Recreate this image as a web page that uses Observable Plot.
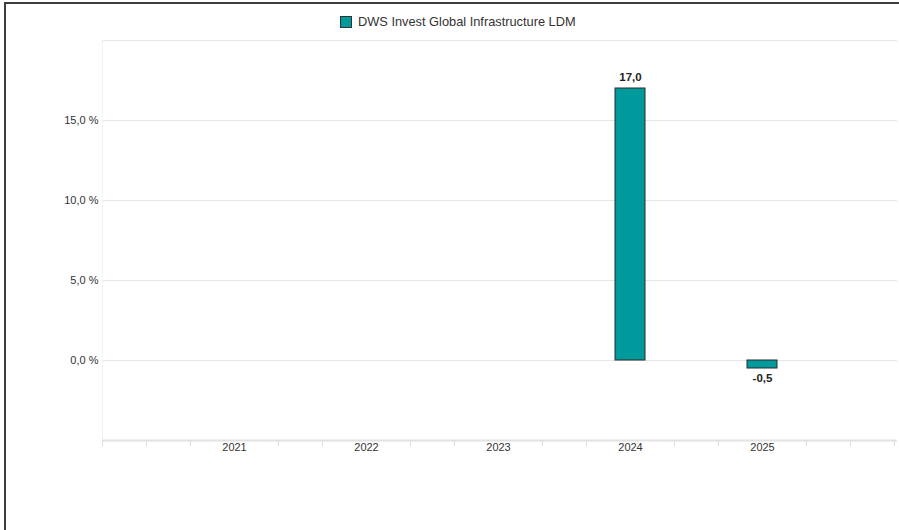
<!DOCTYPE html>
<html>
<head>
<meta charset="utf-8">
<script src="https://cdn.jsdelivr.net/npm/d3@7"></script>
<script src="https://cdn.jsdelivr.net/npm/@observablehq/plot@0.6"></script>
<style>
  html, body { margin: 0; padding: 0; background: #fff; }
  #wrap { position: relative; width: 899px; height: 530px; overflow: hidden; font-family: "Liberation Sans", Arial, sans-serif; }
  #frame { position: absolute; left: 4px; top: 2px; right: 0; bottom: 0; border-left: 2px solid #3c3c3c; border-top: 2px solid #3c3c3c; box-sizing: border-box; }
  #legend { position: absolute; left: 340px; top: 14px; display: flex; align-items: center; font-size: 12.8px; color: #333; }
  #legend .sw { width: 10px; height: 10px; border: 1px solid #333; margin-right: 6px; }
  #chart { position: absolute; left: 0; top: 0; }
</style>
</head>
<body>
<div id="wrap">
  <div id="frame"></div>
  <div id="chart"></div>
  <div id="legend"><span class="sw"></span><span id="legendText"></span></div>
</div>
<script>
const seriesName = "DWS Invest Global Infrastructure LDM";
const years = [2021, 2022, 2023, 2024, 2025];
const values = [null, null, null, 17.0, -0.5];
const yTicks = [0, 5, 10, 15];
const gridLines = [0, 5, 10, 15, 20];
const barColor = "#009a9c";

const data = years.map((y, i) => ({year: y, value: values[i]})).filter(d => d.value != null);
const pos = data.filter(d => d.value >= 0);
const neg = data.filter(d => d.value < 0);
const fmt = v => v.toFixed(1).replace(".", ",");
const minorTicks = d3.range(0, 19).map(i => 2020 + i / 3).filter(t => !years.some(y => Math.abs(y - t) < 1e-6));

document.getElementById("legendText").textContent = seriesName;
document.querySelector("#legend .sw").style.background = barColor;

const labelStyle = {fontWeight: "bold", fontSize: 11.5, fill: "#222"};

const chart = Plot.plot({
  width: 899,
  height: 470,
  marginTop: 40,
  marginBottom: 30,
  marginLeft: 102,
  marginRight: 5,
  style: {fontFamily: '"Liberation Sans", Arial, sans-serif', fontSize: "11px", color: "#333", background: "transparent"},
  x: {type: "linear", domain: [2020, 2026]},
  y: {domain: [-5, 20]},
  marks: [
    Plot.ruleY(gridLines, {y: d => d, stroke: "#e6e6e6", strokeWidth: 1, insetRight: -3}),
    Plot.ruleX([2020], {y1: -5, y2: 20, stroke: "#f3f3f3"}),
    Plot.ruleY([-5], {stroke: "#e2e2e2", strokeWidth: 2, insetRight: -3}),
    Plot.axisY({ticks: yTicks, tickSize: 0, tickPadding: 4, tickFormat: d => fmt(d) + " %", label: null, fill: "#333"}),
    Plot.axisX({ticks: minorTicks, tickSize: 6, tickFormat: () => "", stroke: "#dcdcdc", label: null}),
    Plot.axisX({ticks: years, tickSize: 0, tickPadding: 3, tickFormat: d => String(d), label: null, fill: "#333"}),
    Plot.rectY(data, {x1: d => d.year - 0.5, x2: d => d.year + 0.5, y1: 0, y2: "value", insetLeft: 51, insetRight: 51, fill: barColor, stroke: "#2b2b2b", strokeWidth: 1}),
    Plot.text(pos, {x: "year", y: "value", text: d => fmt(d.value), dy: -11, ...labelStyle}),
    Plot.text(neg, {x: "year", y: "value", text: d => fmt(d.value), dy: 10, ...labelStyle})
  ]
});
document.getElementById("chart").appendChild(chart);
</script>
</body>
</html>
